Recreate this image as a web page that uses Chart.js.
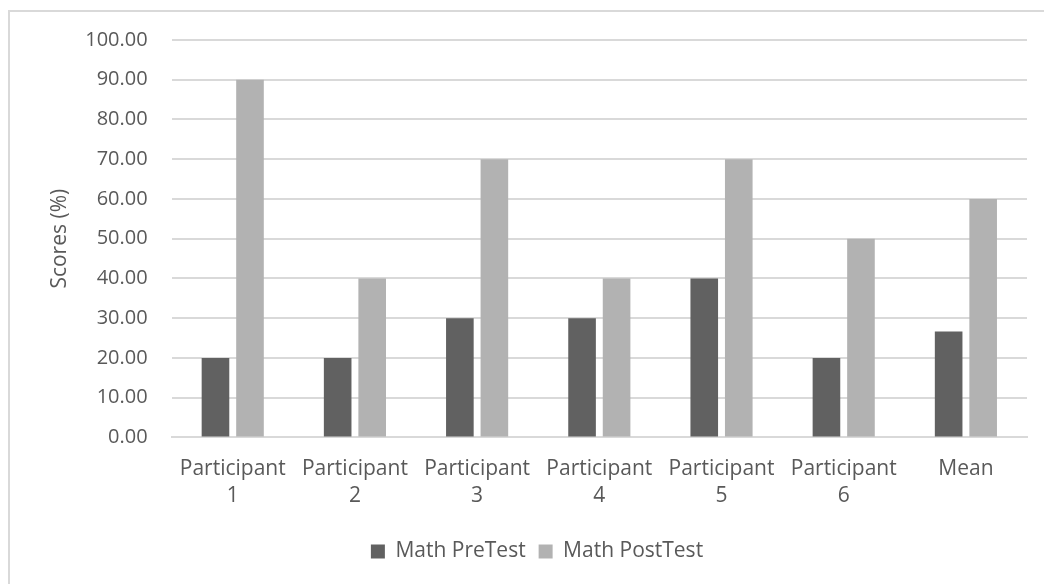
<!DOCTYPE html>
<html>
<head>
<meta charset="utf-8">
<script src="https://cdn.jsdelivr.net/npm/chart.js@4/dist/chart.umd.min.js"></script>
<style>
  html, body { margin: 0; padding: 0; background: #fff; }
  #wrap { position: relative; width: 1044px; height: 584px; overflow: hidden; }
  #frame { position: absolute; left: 8px; top: 10px; width: 1200px; height: 800px;
           border: 2px solid #d9d9d9; box-sizing: border-box; }
  canvas { position: absolute; left: 0; top: 0; }
</style>
</head>
<body>
<div id="wrap">
  <div id="frame"></div>
  <canvas id="c" width="1044" height="584"></canvas>
</div>
<script>
// Category labels (two lines each) and scores per test
const categories = [
  ["Participant", "1"], ["Participant", "2"], ["Participant", "3"],
  ["Participant", "4"], ["Participant", "5"], ["Participant", "6"], "Mean"
];
const preTest  = [20, 20, 30, 30, 40, 20, 26.67];
const postTest = [90, 40, 70, 40, 70, 50, 60];
const seriesNames = ["Math PreTest", "Math PostTest"];

const FONT = "'Open Sans', 'Liberation Sans', sans-serif";
const TEXT = "#595959";
const SIZE = 21;

new Chart(document.getElementById("c"), {
  type: "bar",
  data: {
    labels: categories,
    datasets: [
      { label: seriesNames[0], data: preTest, backgroundColor: "#616161" },
      { label: seriesNames[1], data: postTest, backgroundColor: "#b2b2b2" }
    ]
  },
  options: {
    responsive: false,
    animation: false,
    devicePixelRatio: 1,
    layout: { padding: { left: 47, right: 17, top: 40, bottom: 12 } },
    datasets: { bar: { categoryPercentage: 0.565, barPercentage: 0.8 } },
    scales: {
      x: {
        grid: { display: false, drawTicks: false },
        border: { display: true, color: "#d9d9d9", width: 2 },
        ticks: {
          color: TEXT, padding: 18, maxRotation: 0, autoSkip: false,
          font: { family: FONT, size: SIZE, lineHeight: 1.3 }
        }
      },
      y: {
        min: 0, max: 100,
        grid: { color: "#d9d9d9", lineWidth: 2, drawTicks: false },
        border: { display: false },
        ticks: {
          stepSize: 10, color: TEXT, padding: 24,
          font: { family: FONT, size: 20 },
          callback: v => Number(v).toFixed(2)
        },
        title: {
          display: true, text: "Scores (%)", color: TEXT,
          font: { family: FONT, size: SIZE }, padding: { top: 0, bottom: -11 }
        }
      }
    },
    plugins: {
      legend: {
        position: "bottom",
        labels: {
          color: TEXT, boxWidth: 14, boxHeight: 14, padding: 13,
          font: { family: FONT, size: SIZE }
        }
      },
      tooltip: { enabled: false }
    }
  }
});
</script>
</body>
</html>
